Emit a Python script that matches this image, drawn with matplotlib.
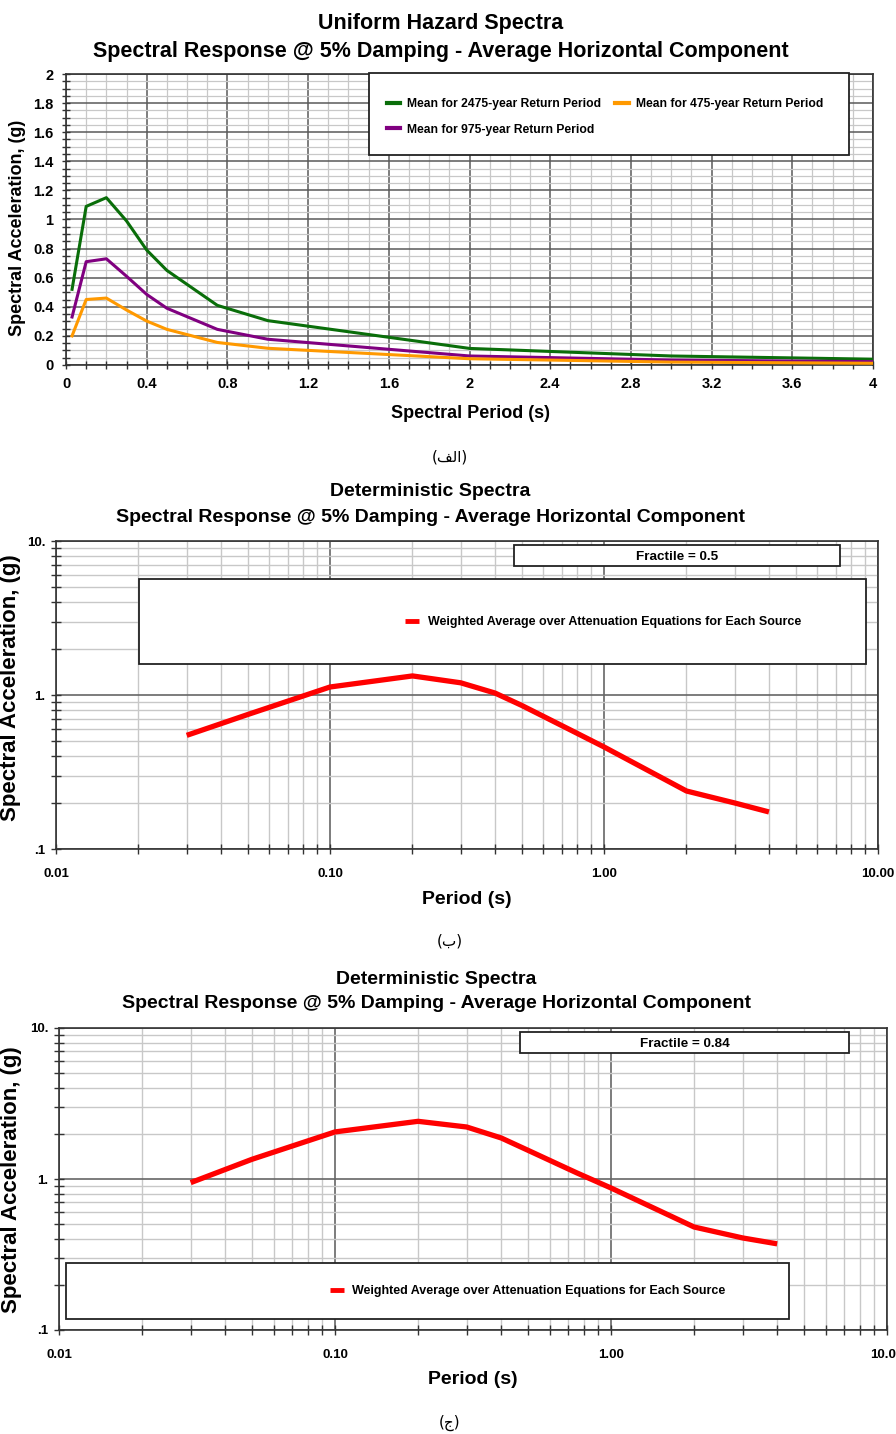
import matplotlib
matplotlib.use("Agg")
import matplotlib.pyplot as plt
from matplotlib.patches import Rectangle
from matplotlib.ticker import MultipleLocator, FixedLocator, LogLocator, NullFormatter, FuncFormatter
import numpy as np

# ---------------- data ----------------
periods_uhs = [0.03, 0.1, 0.2, 0.3, 0.4, 0.5, 0.75, 1.0, 2.0, 3.0, 4.0]
sa_2475 = [0.52, 1.09, 1.15, 0.99, 0.79, 0.65, 0.41, 0.305, 0.114, 0.062, 0.040]
sa_975 = [0.33, 0.71, 0.73, 0.61, 0.485, 0.39, 0.245, 0.177, 0.062, 0.034, 0.023]
sa_475 = [0.20, 0.45, 0.46, 0.378, 0.302, 0.245, 0.155, 0.115, 0.043, 0.020, 0.012]

periods_det = [0.03, 0.05, 0.1, 0.2, 0.3, 0.4, 0.5, 0.75, 1.0, 2.0, 3.0, 4.0]
sa_f50 = [0.547, 0.746, 1.127, 1.33, 1.20, 1.03, 0.857, 0.596, 0.46, 0.238, 0.199, 0.174]
sa_f84 = [0.946, 1.35, 2.05, 2.41, 2.21, 1.87, 1.55, 1.10, 0.872, 0.481, 0.407, 0.372]

uhs_labels = ["Mean for 2475-year Return Period", "Mean for 975-year Return Period",
              "Mean for 475-year Return Period"]
det_label = "Weighted Average over Attenuation Equations for Each Source"
title_uhs = "Uniform Hazard Spectra"
title_det = "Deterministic Spectra"
subtitle = "Spectral Response @ 5% Damping - Average Horizontal Component"
fractiles = ["Fractile = 0.5", "Fractile = 0.84"]
captions = ["(\uFED2\uFEDF\uFE8D)", "(\uFE8F)", "(\uFE9D)"]

log_xticks = [0.01, 0.1, 1, 10]
log_xticklabels = ["0.01", "0.10", "1.00", "10.00"]
log_yticks = [0.1, 1, 10]
log_yticklabels = [".1", "1.", "10."]

# ---------------- style ----------------
W, H = 896, 1434
FONT = ["Liberation Sans", "DejaVu Sans"]
plt.rcParams["font.family"] = FONT
MAJ = "#5a5a5a"
MIN = "#c8c8c8"

fig = plt.figure(figsize=(W / 100, H / 100), dpi=100)


def fx(px):
    return px / W


def fy(py):
    return 1 - py / H


def add_axes(l, t, r, b):
    return fig.add_axes([fx(l), fy(b), fx(r) - fx(l), fy(t) - fy(b)])


def box(ax, x0, y0, w, h):
    ax.add_patch(Rectangle((x0, y0), w, h, transform=ax.transAxes, facecolor="white",
                           edgecolor="#222222", lw=1.3, zorder=5, clip_on=False))


# ================= chart 1 =================
ax1 = add_axes(66, 74, 873, 365)
ax1.plot(periods_uhs, sa_2475, color="#0a6e0a", lw=2.2, label=uhs_labels[0], zorder=3)
ax1.plot(periods_uhs, sa_975, color="#800080", lw=2.2, label=uhs_labels[1], zorder=3)
ax1.plot(periods_uhs, sa_475, color="#ff9900", lw=2.2, label=uhs_labels[2], zorder=3)
ax1.set_xlim(0, 4)
ax1.set_ylim(0, 2)
ax1.xaxis.set_major_locator(MultipleLocator(0.4))
ax1.xaxis.set_minor_locator(MultipleLocator(0.1))
ax1.yaxis.set_major_locator(MultipleLocator(0.2))
ax1.yaxis.set_minor_locator(MultipleLocator(0.05))
fmt = FuncFormatter(lambda v, p: ("%.1f" % v).rstrip("0").rstrip(".") if abs(v) > 1e-9 else "0")
ax1.xaxis.set_major_formatter(fmt)
ax1.yaxis.set_major_formatter(fmt)
ax1.grid(which="major", color=MAJ, lw=1.1, zorder=1)
ax1.grid(which="minor", color=MIN, lw=0.9, zorder=0)
ax1.set_axisbelow(True)
ax1.tick_params(which="both", direction="inout", length=6, width=1, colors="#333333")
ax1.tick_params(which="major", labelsize=10.5, labelcolor="black", pad=6)
for lab in ax1.get_xticklabels() + ax1.get_yticklabels():
    lab.set_fontweight("bold")
for s in ax1.spines.values():
    s.set_color("#333333")
    s.set_linewidth(1.2)
box(ax1, (369 - 66) / 807, (365 - 155) / 291, (849 - 369) / 807, (155 - 73) / 291)
leg1 = ax1.legend(loc="upper left", bbox_to_anchor=((382 - 66) / 807, (365 - 93) / 291),
                  ncol=2, frameon=False, handlelength=1.1, handletextpad=0.6,
                  columnspacing=1.15, labelspacing=1.15, borderaxespad=0,
                  prop={"weight": "bold", "size": 8.7})
leg1.set_zorder(6)
for l in leg1.get_lines():
    l.set_linewidth(3)

fig.text(fx(441), fy(24), title_uhs, ha="center", va="center", fontsize=15.5, fontweight="bold")
fig.text(fx(441), fy(51), subtitle, ha="center", va="center", fontsize=15.5, fontweight="bold")
fig.text(fx(470), fy(413), "Spectral Period (s)", ha="center", va="center", fontsize=13, fontweight="bold")
fig.text(fx(18), fy(228), "Spectral Acceleration, (g)", ha="center", va="center", rotation=90,
         fontsize=13, fontweight="bold")
fig.text(fx(450), fy(457), captions[0], ha="center", va="center", fontsize=11, family=["DejaVu Sans"])


# ================= charts 2, 3 =================
def log_chart(ax, x, y, fr_label, frbox, legbox, leganchor):
    ax.plot(x, y, color="#ff0000", lw=3.8, label=det_label, zorder=3, solid_capstyle="butt")
    ax.set_xscale("log")
    ax.set_yscale("log")
    ax.set_xlim(0.01, 10)
    ax.set_ylim(0.1, 10)
    ax.xaxis.set_major_locator(FixedLocator(log_xticks))
    ax.yaxis.set_major_locator(FixedLocator(log_yticks))
    ax.xaxis.set_minor_locator(LogLocator(base=10, subs=np.arange(2, 10)))
    ax.yaxis.set_minor_locator(LogLocator(base=10, subs=np.arange(2, 10)))
    ax.xaxis.set_minor_formatter(NullFormatter())
    ax.yaxis.set_minor_formatter(NullFormatter())
    ax.set_xticklabels(log_xticklabels)
    ax.set_yticklabels(log_yticklabels)
    ax.grid(which="major", color="#666666", lw=1.2, zorder=1)
    ax.grid(which="minor", color=MIN, lw=1.0, zorder=0)
    ax.set_axisbelow(True)
    ax.tick_params(which="both", direction="inout", length=7, width=1, colors="#333333")
    ax.tick_params(which="major", labelsize=9.5, labelcolor="black")
    ax.tick_params(axis="x", which="major", pad=10)
    ax.tick_params(axis="y", which="major", pad=4)
    for lab in ax.get_xticklabels() + ax.get_yticklabels():
        lab.set_fontweight("bold")
    for s in ax.spines.values():
        s.set_color("#333333")
        s.set_linewidth(1.2)
    box(ax, *frbox)
    ax.text(frbox[0] + frbox[2] / 2, frbox[1] + frbox[3] / 2, fr_label, transform=ax.transAxes,
            ha="center", va="center_baseline", fontsize=9.7, fontweight="bold", zorder=7)
    box(ax, *legbox)
    leg = ax.legend(loc="center left", bbox_to_anchor=leganchor, frameon=False,
                    handlelength=1.1, handletextpad=0.7, borderaxespad=0,
                    prop={"weight": "bold", "size": 9})
    leg.set_zorder(8)
    for l in leg.get_lines():
        l.set_linewidth(3.5)


ax2 = add_axes(56, 541, 878, 849)
log_chart(ax2, periods_det, sa_f50, fractiles[0],
          ((514 - 56) / 822, (849 - 566) / 308, (840 - 514) / 822, 21 / 308),
          ((139 - 56) / 822, (849 - 664) / 308, (866 - 139) / 822, 85 / 308),
          ((400 - 56) / 822, (849 - 622) / 308))
fig.text(fx(430), fy(492), title_det, ha="center", va="center", fontsize=14, fontweight="bold")
fig.text(fx(430), fy(517), subtitle, ha="center", va="center", fontsize=14, fontweight="bold")
fig.text(fx(467), fy(900), "Period (s)", ha="center", va="center", fontsize=14, fontweight="bold")
fig.text(fx(11), fy(688), "Spectral Acceleration, (g)", ha="center", va="center", rotation=90,
         fontsize=16, fontweight="bold")
fig.text(fx(450), fy(941), captions[1], ha="center", va="center", fontsize=11, family=["DejaVu Sans"])

ax3 = add_axes(59, 1028, 887, 1330)
log_chart(ax3, periods_det, sa_f84, fractiles[1],
          ((520 - 59) / 828, (1330 - 1053) / 302, (849 - 520) / 828, 21 / 302),
          ((66 - 59) / 828, (1330 - 1319) / 302, (789 - 66) / 828, 56 / 302),
          ((325 - 59) / 828, (1330 - 1291) / 302))
fig.text(fx(436), fy(980), title_det, ha="center", va="center", fontsize=14, fontweight="bold")
fig.text(fx(436), fy(1004), subtitle, ha="center", va="center", fontsize=14, fontweight="bold")
fig.text(fx(473), fy(1380), "Period (s)", ha="center", va="center", fontsize=14, fontweight="bold")
fig.text(fx(12), fy(1180), "Spectral Acceleration, (g)", ha="center", va="center", rotation=90,
         fontsize=16, fontweight="bold")
fig.text(fx(450), fy(1423), captions[2], ha="center", va="center", fontsize=11, family=["DejaVu Sans"])

fig.savefig("out.png", dpi=100)
